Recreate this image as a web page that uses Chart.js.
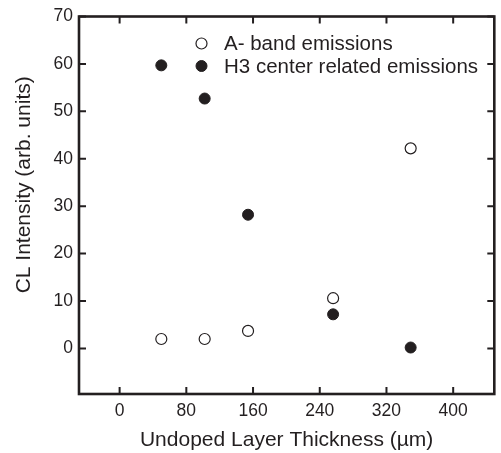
<!DOCTYPE html>
<html><head><meta charset="utf-8">
<script src="https://cdn.jsdelivr.net/npm/chart.js@4/dist/chart.umd.min.js"></script>
<style>html,body{margin:0;padding:0;background:#fff;overflow:hidden}</style>
</head><body>
<canvas id="c" width="501" height="453"></canvas>
<script>
const thickness = [50, 102, 154, 256, 349];
const aBand = [2.0, 2.0, 3.7, 10.6, 42.2];
const h3 = [59.7, 52.7, 28.2, 7.2, 0.2];
const xTicks = [0, 80, 160, 240, 320, 400];
const yTicks = [0, 10, 20, 30, 40, 50, 60, 70];
const seriesNames = ['A- band emissions', 'H3 center related emissions'];
const xTitle = 'Undoped Layer Thickness (\u00b5m)';
const yTitle = 'CL Intensity (arb. units)';

const INK = '#231f20';
const FONT = '"Liberation Sans", Arial, Helvetica, sans-serif';

const framePlugin = {
  id: 'frame',
  beforeDatasetsDraw(chart) {
    const {ctx, chartArea: a, scales: {x, y}} = chart;
    ctx.save();
    ctx.strokeStyle = INK;
    ctx.lineWidth = 2;
    const L = 7;
    ctx.beginPath();
    xTicks.forEach(v => {
      const px = x.getPixelForValue(v);
      ctx.moveTo(px, a.bottom); ctx.lineTo(px, a.bottom - L);
      ctx.moveTo(px, a.top); ctx.lineTo(px, a.top + L);
    });
    yTicks.forEach(v => {
      const py = y.getPixelForValue(v);
      ctx.moveTo(a.left, py); ctx.lineTo(a.left + L, py);
      ctx.moveTo(a.right, py); ctx.lineTo(a.right - L, py);
    });
    ctx.stroke();
    ctx.lineWidth = 2.6;
    ctx.strokeRect(a.left, a.top, a.right - a.left, a.bottom - a.top);
    ctx.restore();
  }
};

const legendPlugin = {
  id: 'customLegend',
  afterDatasetsDraw(chart) {
    const {ctx, chartArea: a} = chart;
    const mx = a.left + 122.5, tx = a.left + 145, y0 = a.top + 27, dy = 22.5;
    ctx.save();
    ctx.font = '20.5px ' + FONT;
    ctx.textBaseline = 'middle';
    ctx.fillStyle = INK;
    chart.data.datasets.forEach((ds, i) => {
      const yy = y0 + i * dy;
      ctx.beginPath();
      ctx.arc(mx, yy, 5.5, 0, Math.PI * 2);
      ctx.fillStyle = ds.pointBackgroundColor;
      ctx.fill();
      ctx.lineWidth = ds.pointBorderWidth;
      ctx.strokeStyle = INK;
      ctx.stroke();
      ctx.fillStyle = INK;
      ctx.fillText(ds.label, tx, yy + 1);
    });
    ctx.restore();
  }
};

new Chart(document.getElementById('c'), {
  type: 'scatter',
  data: {
    datasets: [
      {
        label: seriesNames[0],
        data: thickness.map((t, i) => ({x: t, y: aBand[i]})),
        pointRadius: 5.5,
        pointBackgroundColor: '#ffffff',
        pointBorderColor: INK,
        pointBorderWidth: 1.2,
        showLine: false
      },
      {
        label: seriesNames[1],
        data: thickness.map((t, i) => ({x: t, y: h3[i]})),
        pointRadius: 5.5,
        pointBackgroundColor: INK,
        pointBorderColor: INK,
        pointBorderWidth: 1,
        showLine: false
      }
    ]
  },
  options: {
    responsive: false,
    animation: false,
    devicePixelRatio: 1,
    layout: {padding: {top: 14, right: 2.5, left: 0, bottom: 0}},
    plugins: {legend: {display: false}, tooltip: {enabled: false}},
    scales: {
      x: {
        type: 'linear',
        min: -48.7, max: 449.3,
        grid: {display: false, drawTicks: false},
        border: {display: false},
        afterBuildTicks: s => { s.ticks = xTicks.map(v => ({value: v})); },
        afterFit: s => { s.height = 59; },
        ticks: {color: INK, font: {family: FONT, size: 17.5}, padding: 7, maxRotation: 0},
        title: {display: true, text: xTitle, color: INK, font: {family: FONT, size: 21}, padding: {top: 0, bottom: 0}}
      },
      y: {
        type: 'linear',
        min: -9.6, max: 70,
        grid: {display: false, drawTicks: false},
        border: {display: false},
        afterBuildTicks: s => { s.ticks = yTicks.map(v => ({value: v})); },
        afterFit: s => { s.width = 79; },
        ticks: {color: INK, font: {family: FONT, size: 17.5}, padding: 6},
        title: {display: true, text: '       ' + yTitle, color: INK, font: {family: FONT, size: 21}, padding: {top: 12, bottom: 0}}
      }
    }
  },
  plugins: [framePlugin, legendPlugin]
});
</script>
</body></html>
